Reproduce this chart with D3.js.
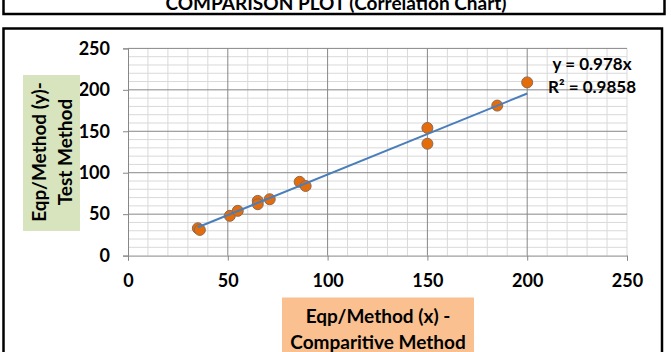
<!DOCTYPE html>
<html><head><meta charset="utf-8">
<script src="https://cdn.jsdelivr.net/npm/d3@7"></script>
<style>body{margin:0;background:#fff}svg{display:block}</style>
</head><body>
<svg id="c" width="671" height="352"></svg>
<script>
const xValues = [35, 36, 51, 55, 65, 65, 71, 86, 89, 150, 150, 185, 200];
const yValues = [33, 31, 48, 54, 66, 62, 68, 89, 84, 154, 135, 181, 209];
const xTicks = [0, 50, 100, 150, 200, 250];
const yTicks = [0, 50, 100, 150, 200, 250];
const trendSlope = 0.978;
const equationText = "y = 0.978x";
const r2Label = "R² = 0.9858";
const titleText = "COMPARISON PLOT (Correlation Chart)";
const xTitle = ["Eqp/Method (x) -", "Comparitive Method"];
const yTitle = ["Eqp/Method (y)-", "Test Method"];

const font = "Lato, 'Open Sans', sans-serif";
const svg = d3.select("#c");
const x = d3.scaleLinear().domain([0, 250]).range([128, 627]);
const y = d3.scaleLinear().domain([0, 250]).range([255.6, 48.4]);

// frames
svg.append("rect").attr("x", 3.5).attr("y", -10).attr("width", 661).attr("height", 24)
  .attr("fill", "#fff").attr("stroke", "#000").attr("stroke-width", 2.5);
svg.append("text").attr("x", 336).attr("y", 10).attr("text-anchor", "middle")
  .attr("font-family", font).attr("font-weight", "bold").attr("font-size", 19).text(titleText);
svg.append("rect").attr("x", 3.5).attr("y", 28.5).attr("width", 658.5).attr("height", 340)
  .attr("fill", "#fff").attr("stroke", "#000").attr("stroke-width", 2.5);

// grid
const minor = d3.range(0, 251, 10);
const g = svg.append("g");
g.selectAll(".mv").data(minor.filter(d => d % 50 !== 0)).join("line")
  .attr("x1", d => x(d)).attr("x2", d => x(d)).attr("y1", y(0)).attr("y2", y(250))
  .attr("stroke", "#d9d9d9").attr("stroke-width", 1);
g.selectAll(".mh").data(minor.filter(d => d % 50 !== 0)).join("line")
  .attr("y1", d => y(d)).attr("y2", d => y(d)).attr("x1", x(0)).attr("x2", x(250))
  .attr("stroke", "#d9d9d9").attr("stroke-width", 1);
g.selectAll(".Mv").data(xTicks.filter(d => d > 0 && d < 250)).join("line")
  .attr("x1", d => x(d)).attr("x2", d => x(d)).attr("y1", y(0)).attr("y2", y(250))
  .attr("stroke", "#878787").attr("stroke-width", 1);
g.append("line").attr("x1", x(250)).attr("x2", x(250)).attr("y1", y(0)).attr("y2", y(250))
  .attr("stroke", "#d9d9d9");
g.selectAll(".Mh").data(yTicks.filter(d => d > 0)).join("line")
  .attr("y1", d => y(d)).attr("y2", d => y(d)).attr("x1", x(0)).attr("x2", x(250))
  .attr("stroke", "#878787").attr("stroke-width", 1);

// axes
const xAxis = d3.axisBottom(x).tickValues(xTicks).tickSize(5).tickPadding(14);
const yAxis = d3.axisLeft(y).tickValues(yTicks).tickSize(5).tickPadding(13);
const gx = svg.append("g").attr("transform", `translate(0,${y(0)})`).call(xAxis);
const gy = svg.append("g").attr("transform", `translate(${x(0)},0)`).call(yAxis);
[gx, gy].forEach(a => {
  a.select(".domain").attr("stroke", "#878787");
  a.selectAll(".tick line").attr("stroke", "#878787");
  a.selectAll("text").attr("font-family", font).attr("font-weight", "bold")
    .attr("font-size", 18).attr("fill", "#000");
});

// axis titles
svg.append("rect").attr("x", 282).attr("y", 297.5).attr("width", 192).attr("height", 60).attr("fill", "#FAC090");
svg.append("text").attr("x", 378).attr("y", 322.5).attr("text-anchor", "middle")
  .attr("font-family", font).attr("font-weight", "bold").attr("font-size", 19).text(xTitle[0]);
svg.append("text").attr("x", 378).attr("y", 348.5).attr("text-anchor", "middle")
  .attr("font-family", font).attr("font-weight", "bold").attr("font-size", 19).text(xTitle[1]);

svg.append("rect").attr("x", 23).attr("y", 75).attr("width", 57).attr("height", 156).attr("fill", "#D7E4BD");
const yt = svg.append("g").attr("transform", "translate(51.5,152) rotate(-90)");
yt.append("text").attr("x", 0).attr("y", -6).attr("text-anchor", "middle")
  .attr("font-family", font).attr("font-weight", "bold").attr("font-size", 19).text(yTitle[0]);
yt.append("text").attr("x", 0).attr("y", 20).attr("text-anchor", "middle")
  .attr("font-family", font).attr("font-weight", "bold").attr("font-size", 19).text(yTitle[1]);

// points
const pts = xValues.map((v, i) => ({x: v, y: yValues[i]}));
svg.append("g").selectAll("circle").data(pts).join("circle")
  .attr("cx", d => x(d.x)).attr("cy", d => y(d.y)).attr("r", 5.5)
  .attr("fill", "#E46C0A").attr("stroke", "#8C6A55").attr("stroke-width", 1);

// trendline
const xMin = d3.min(xValues), xMax = d3.max(xValues);
svg.append("line").attr("x1", x(xMin)).attr("y1", y(trendSlope * xMin))
  .attr("x2", x(xMax)).attr("y2", y(trendSlope * xMax))
  .attr("stroke", "#4A7EBB").attr("stroke-width", 2);

// equation
svg.append("text").attr("x", 592).attr("y", 70).attr("text-anchor", "middle")
  .attr("font-family", font).attr("font-weight", "bold").attr("font-size", 17).text(equationText);
svg.append("text").attr("x", 592).attr("y", 92.5).attr("text-anchor", "middle")
  .attr("font-family", font).attr("font-weight", "bold").attr("font-size", 17).text(r2Label);
</script>
</body></html>
